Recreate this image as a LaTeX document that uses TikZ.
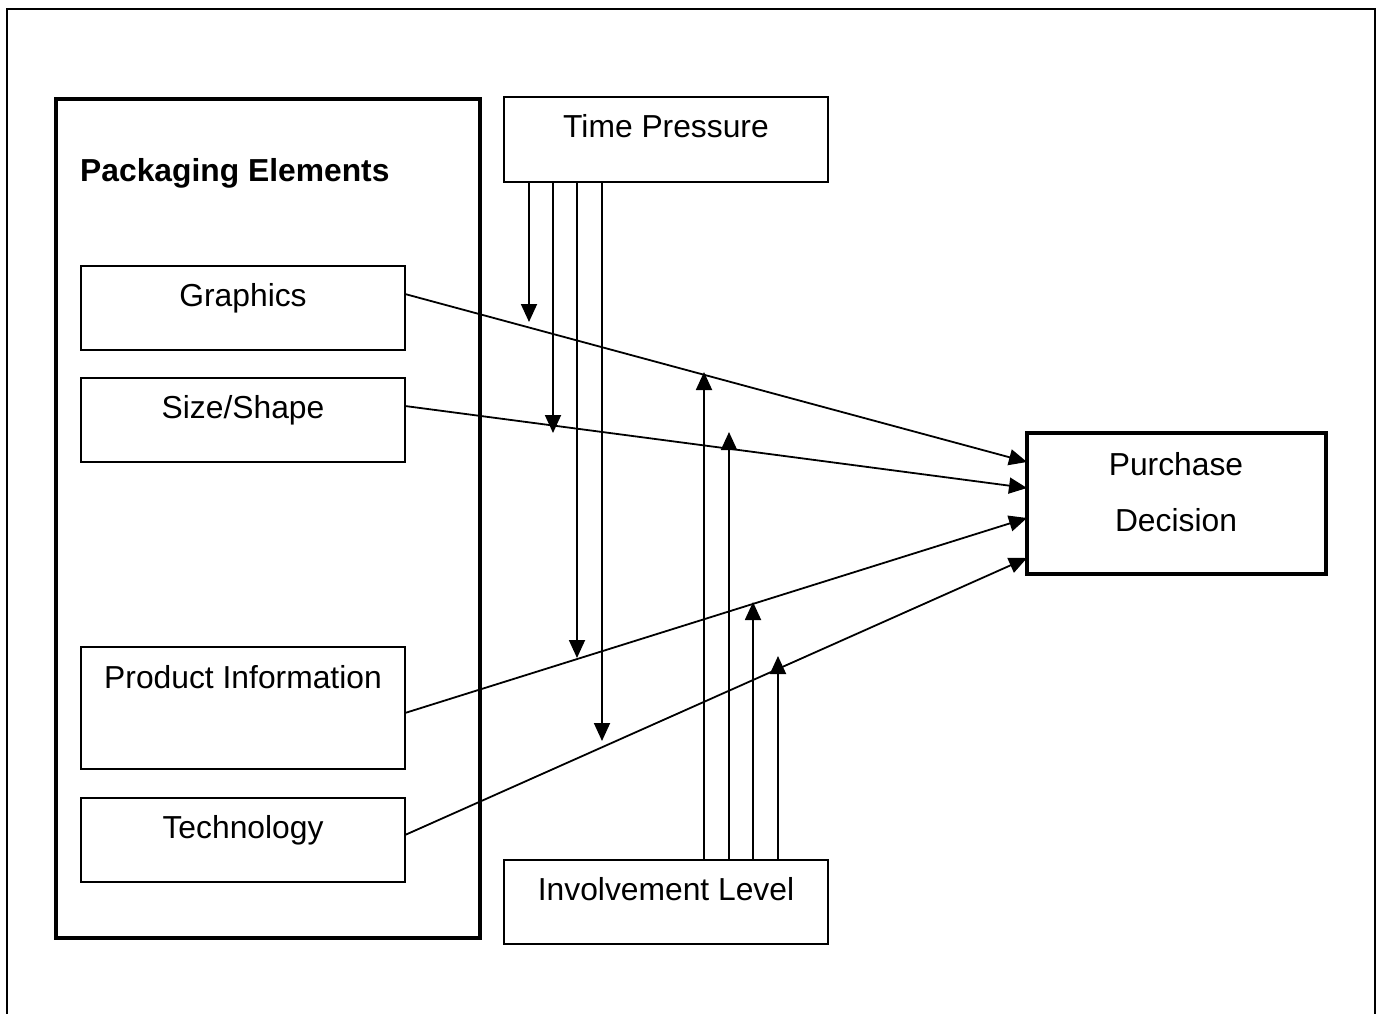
\documentclass[tikz,border=0pt]{standalone}
\usepackage{fontspec}
\setmainfont{Liberation Sans}
\usetikzlibrary{arrows.meta,calc}
\begin{document}
\begin{tikzpicture}[x=1pt,y=-1pt,
  every node/.style={font=\fontsize{31.8}{38}\selectfont},
  box/.style={draw,line width=1.5pt,inner sep=0pt,outer sep=0pt},
  thickbox/.style={draw,line width=4.5pt,inner sep=0pt,outer sep=0pt},
  txt/.style={anchor=base,inner sep=0pt},
  conn/.style={line width=1.8pt,-{Triangle[length=18pt,width=16pt]}}]
\useasboundingbox (0,0) rectangle (1378,1014);
% outer frame (open at bottom)
\draw[line width=2.2pt] (7,1014) -- (7,9) -- (1375,9) -- (1375,1014);
% boxes
\node[thickbox,minimum width=424pt,minimum height=839pt] (pk) at (268,518.5) {};
\node[txt,anchor=base west,font=\fontsize{31.8}{38}\selectfont\bfseries] (pkt) at (80,181) {Packaging Elements};
\node[box,minimum width=324pt,minimum height=84pt] (g) at (243,308) {};
\node[txt] (gt) at (243,306) {Graphics};
\node[box,minimum width=324pt,minimum height=84pt] (s) at (243,420) {};
\node[txt] (st) at (243,418) {Size/Shape};
\node[box,minimum width=324pt,minimum height=122pt] (p) at (243,708) {};
\node[txt] (pt) at (243,688) {Product Information};
\node[box,minimum width=324pt,minimum height=84pt] (t) at (243,840) {};
\node[txt] (tt) at (243,838) {Technology};
\node[box,minimum width=324pt,minimum height=85pt] (tp) at (666,139.5) {};
\node[txt] (tpt) at (666,138) {Time Pressure};
\node[box,minimum width=324pt,minimum height=84pt] (il) at (666,902) {};
\node[txt] (ilt) at (666,900) {Involvement Level};
\node[thickbox,minimum width=299pt,minimum height=141pt] (pd) at (1176.5,503.5) {};
\node[txt] (pd1) at (1176,475) {Purchase};
\node[txt] (pd2) at (1176,531) {Decision};
% anchor coordinates
\coordinate (gE) at ($(g.east)+(0,-14)$);
\coordinate (sE) at ($(s.east)+(0,-14)$);
\coordinate (pE) at ($(p.east)+(0,5)$);
\coordinate (tE) at ($(t.east)+(0,-5)$);
\coordinate (pd1W) at (pd.west |- 0,462);
\coordinate (pd2W) at (pd.west |- 0,488);
\coordinate (pd3W) at (pd.west |- 0,518);
\coordinate (pd4W) at (pd.west |- 0,558);
% element -> purchase
\draw[conn] (gE) -- (pd1W);
\draw[conn] (sE) -- (pd2W);
\draw[conn] (pE) -- (pd3W);
\draw[conn] (tE) -- (pd4W);
% time pressure down arrows
\coordinate (d1) at (529,322);
\coordinate (d2) at (553,433);
\coordinate (d3) at (577,658);
\coordinate (d4) at (602,741);
\draw[conn] (tp.south -| d1) -- (d1);
\draw[conn] (tp.south -| d2) -- (d2);
\draw[conn] (tp.south -| d3) -- (d3);
\draw[conn] (tp.south -| d4) -- (d4);
% involvement up arrows
\coordinate (u1) at (704,372);
\coordinate (u2) at (729,432);
\coordinate (u3) at (753,602);
\coordinate (u4) at (778,656);
\draw[conn] (il.north -| u1) -- (u1);
\draw[conn] (il.north -| u2) -- (u2);
\draw[conn] (il.north -| u3) -- (u3);
\draw[conn] (il.north -| u4) -- (u4);
\end{tikzpicture}
\end{document}
